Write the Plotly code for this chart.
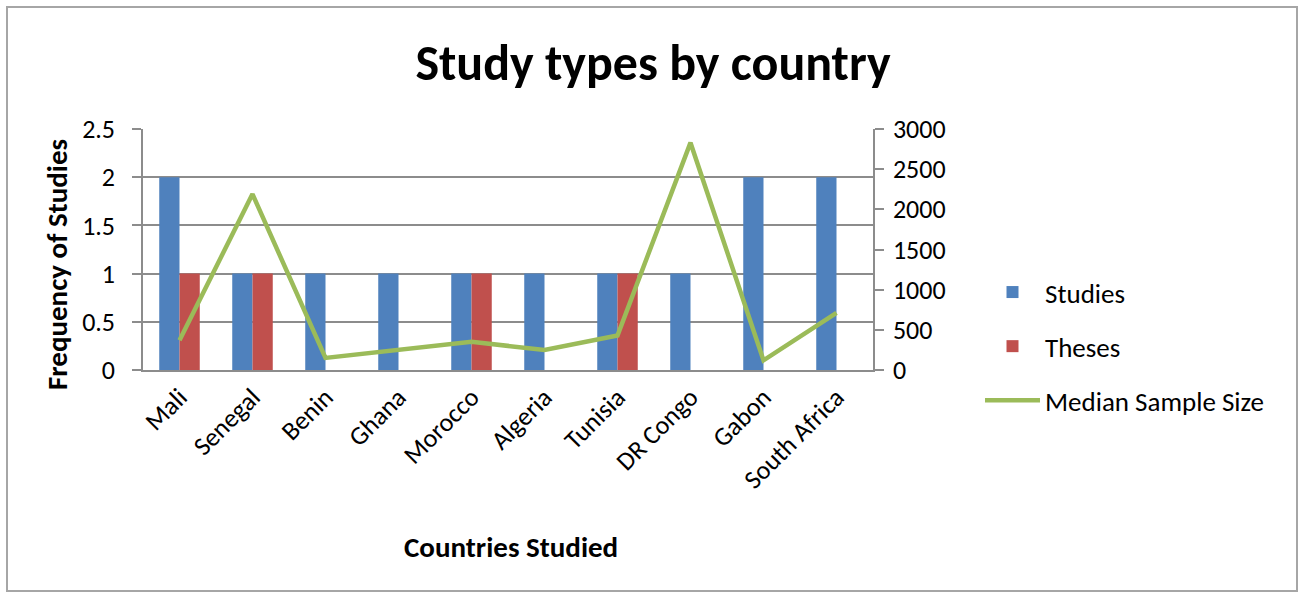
import plotly.graph_objects as go

countries = ["Mali", "Senegal", "Benin", "Ghana", "Morocco", "Algeria",
             "Tunisia", "DR Congo", "Gabon", "South Africa"]
studies = [2, 1, 1, 1, 1, 1, 1, 1, 2, 2]
theses = [1, 1, 0, 0, 1, 0, 1, 0, 0, 0]
median_sample = [370, 2190, 150, 250, 350, 250, 430, 2830, 120, 710]

left_ticks = [0, 0.5, 1, 1.5, 2, 2.5]
left_labels = ["0", "0.5", "1", "1.5", "2", "2.5"]
right_ticks = [0, 500, 1000, 1500, 2000, 2500, 3000]

FONT = "Carlito, Calibri, Lato, sans-serif"
GRID = "#8c8c8c"

# plot area in pixels: x 143..873, y 129..370
L, R, T, B = 143, 873, 129, 370
PW, PH = R - L, B - T


def px(x):
    return (x - L) / PW


def py(y):
    return (B - y) / PH


fig = go.Figure()
fig.add_trace(go.Bar(x=countries, y=studies, name="Studies",
                     marker=dict(color="#4F81BD", line=dict(width=0)),
                     legendgroup="a"))
fig.add_trace(go.Bar(x=countries, y=theses, name="Theses",
                     marker=dict(color="#C0504D", line=dict(width=0)),
                     legendgroup="b"))
fig.add_trace(go.Scatter(x=countries, y=median_sample, name="Median Sample Size",
                         mode="lines", line=dict(color="#9BBB59", width=4.5),
                         yaxis="y2", legendgroup="c"))

fig.update_layout(
    width=1303, height=597,
    margin=dict(l=L, r=1303 - R, t=T, b=597 - B),
    paper_bgcolor="white", plot_bgcolor="white",
    font=dict(family=FONT, size=26, color="#000000"),
    barmode="group", bargap=0.445, bargroupgap=0,
    title=dict(text="<b>Study types by country</b>", x=653 / 1303, xanchor="center",
               y=1 - 62 / 597, yanchor="middle",
               font=dict(family=FONT, size=50, color="#000000")),
    xaxis=dict(type="category", tickangle=-45, showgrid=False,
               showline=True, linecolor=GRID, linewidth=1.5,
               ticks="", tickfont=dict(size=26)),
    yaxis=dict(range=[0, 2.5], tickvals=left_ticks, ticktext=left_labels,
               showgrid=True, gridcolor=GRID, gridwidth=1.5,
               showline=True, linecolor=GRID, linewidth=1.5,
               ticks="outside", ticklen=9, tickcolor=GRID, tickwidth=1.5,
               ticklabelstandoff=12,
               tickfont=dict(size=26), zeroline=False),
    yaxis2=dict(range=[0, 3000], tickvals=right_ticks, overlaying="y", side="right",
                showgrid=False, showline=True, linecolor=GRID, linewidth=1.5,
                ticks="outside", ticklen=9, tickcolor=GRID, tickwidth=1.5,
                ticklabelstandoff=4,
                tickfont=dict(size=26), zeroline=False),
    legend=dict(x=px(980), y=py(268), xanchor="left", yanchor="top",
                tracegroupgap=16, itemwidth=55, font=dict(size=27),
                bgcolor="rgba(0,0,0,0)"),
    showlegend=True,
    annotations=[
        dict(text="<b>Frequency of Studies</b>", xref="paper", yref="paper",
             x=px(57), y=py(265), textangle=-90, showarrow=False,
             xanchor="center", yanchor="middle", font=dict(size=29)),
        dict(text="<b>Countries Studied</b>", xref="paper", yref="paper",
             x=px(511), y=py(547), showarrow=False,
             xanchor="center", yanchor="middle", font=dict(size=29)),
    ],
    shapes=[dict(type="rect", xref="paper", yref="paper",
                 x0=px(7), x1=px(1297), y0=py(591), y1=py(7),
                 line=dict(color="#a6a6a6", width=2), layer="below")],
)

fig.write_html("out.html")
